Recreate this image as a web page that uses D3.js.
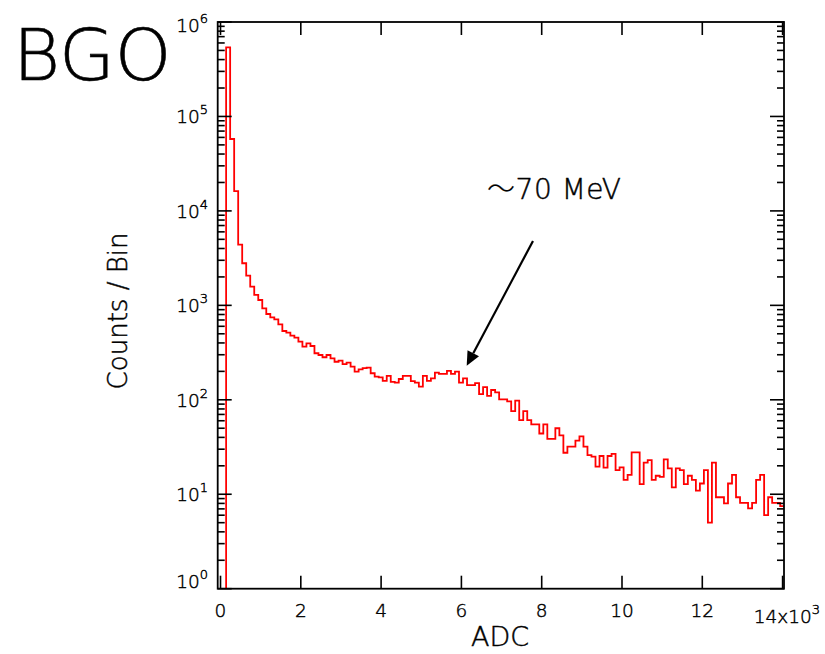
<!DOCTYPE html>
<html><head><meta charset="utf-8">
<script src="https://cdn.jsdelivr.net/npm/d3@7/dist/d3.min.js"></script>
<style>
body{margin:0;background:#fff}
svg text{font-family:"DejaVu Sans",sans-serif;fill:#000;font-weight:300;stroke:#000;stroke-width:0.45px}
svg text.big{stroke-width:0.6px}
</style>
</head><body>
<svg id="chart" width="825" height="654"></svg>
<script>
// ---- data ----
const binWidth = 100;        // ADC units per bin
const firstEdge = 140;       // lower edge of first filled bin
const counts = [
  540000, 57700, 16200, 4390, 2790, 2060, 1575, 1288, 1140, 931,
  810, 747, 711, 630, 535, 514, 478, 455, 412, 365,
  396, 371, 311, 298, 282, 298, 275, 253, 260, 239,
  247, 224, 199, 210, 216, 219, 191, 176, 173, 159,
  179, 155, 152, 166, 179, 179, 158, 152, 138, 179,
  159, 169, 194, 188, 188, 202, 188, 199, 152, 169,
  143, 143, 150, 115, 136, 110, 127, 120, 101, 101,
  96, 76, 98, 61, 76, 61, 55, 55, 44, 55,
  38.5, 38.5, 50, 42, 27.5, 32, 32, 37, 41, 32,
  26, 25, 19.6, 25.4, 19.1, 25.4, 26.7, 18, 19.3, 14.2,
  16, 27.8, 27.8, 12.8, 21.6, 23, 14.2, 15.7, 15.3, 23.4,
  18.8, 11.8, 18.8, 18, 12.8, 15.7, 14.2, 10.9, 13, 18,
  5.0, 21.6, 9.3, 9.3, 8.0, 13, 16, 9.3, 8.1, 8.1,
  7.1, 8.1, 14.2, 16, 6.0, 9.3, 8.1, 8.1, 7.5
];
const xTicks = [0, 2000, 4000, 6000, 8000, 10000, 12000, 14000];
const xTickLabels = ["0", "2", "4", "6", "8", "10", "12"];
const xExponentLabel = "14x10";
const xExponent = "3";
const yExponents = [0, 1, 2, 3, 4, 5, 6];
const annotation = {wave: "〜", text: "70 MeV", x: 6640, y: 13370};
const arrow = {x1: 7783, y1: 4800, x2: 6132, y2: 230};
const xTitle = "ADC", yTitle = "Counts / Bin", bigTitle = "BGO";

// ---- layout ----
const L = 217.7, R = 784, T = 22, B = 588.7;
const svg = d3.select("#chart");
const x = d3.scaleLinear().domain([-70, 14035]).range([L, R]);
const y = d3.scaleLog().domain([1, 1e6]).range([B, T]);

svg.append("defs").append("clipPath").attr("id","clip")
  .append("rect").attr("x",L).attr("y",T).attr("width",R-L).attr("height",B-T);

// histogram
const pts = [[firstEdge, 1]];
counts.forEach((c,i)=>pts.push([firstEdge + i*binWidth, c]));
pts.push([firstEdge + counts.length*binWidth, counts[counts.length-1]]);
const line = d3.line().x(d=>x(d[0])).y(d=>y(d[1])).curve(d3.curveStepAfter);
svg.append("path").attr("d", line(pts)).attr("fill","none")
  .attr("stroke","#ff0000").attr("stroke-width",1.8).attr("clip-path","url(#clip)");

// frame
svg.append("rect").attr("x",L).attr("y",T).attr("width",R-L).attr("height",B-T)
  .attr("fill","none").attr("stroke","#000").attr("stroke-width",1.8);

const tk = svg.append("g").attr("stroke","#000").attr("stroke-width",1.6);
xTicks.forEach(v=>{
  tk.append("line").attr("x1",x(v)).attr("x2",x(v)).attr("y1",B).attr("y2",B-13);
  tk.append("line").attr("x1",x(v)).attr("x2",x(v)).attr("y1",T).attr("y2",T+13);
});
yExponents.forEach(e=>{
  const v = Math.pow(10,e);
  tk.append("line").attr("x1",L).attr("x2",L+14).attr("y1",y(v)).attr("y2",y(v));
  tk.append("line").attr("x1",R).attr("x2",R-14).attr("y1",y(v)).attr("y2",y(v));
  if (e < 6) for (let m=2;m<=9;m++){
    const mv = m*v;
    tk.append("line").attr("x1",L).attr("x2",L+7).attr("y1",y(mv)).attr("y2",y(mv));
    tk.append("line").attr("x1",R).attr("x2",R-7).attr("y1",y(mv)).attr("y2",y(mv));
  }
});

// y labels
yExponents.forEach(e=>{
  const cy = Math.max(25, Math.min(581, y(Math.pow(10,e))));
  const t = svg.append("text").attr("x",208).attr("y",cy+6.7)
    .attr("text-anchor","end").attr("font-size",18.5);
  t.append("tspan").text("10");
  t.append("tspan").attr("font-size",13).attr("dy",-9).text(String(e));
});
// x labels
xTickLabels.forEach((s,i)=>{
  svg.append("text").attr("x",x(xTicks[i])).attr("y",617).attr("text-anchor","middle")
    .attr("font-size",18.5).text(s);
});
const xe = svg.append("text").attr("x",820).attr("y",623).attr("text-anchor","end").attr("font-size",18.5);
xe.append("tspan").text(xExponentLabel);
xe.append("tspan").attr("font-size",13).attr("dy",-9).text(xExponent);

// axis titles
svg.append("text").attr("x",500).attr("y",646).attr("text-anchor","middle")
  .attr("font-size",27).text(xTitle);
svg.append("text").attr("transform","translate(127,311) rotate(-90)")
  .attr("text-anchor","middle").attr("font-size",26).text(yTitle);

// big title
svg.append("text").attr("class","big").attr("x",13).attr("y",80).attr("font-size",72).text(bigTitle);

// annotation
const at = svg.append("text").attr("x",x(annotation.x)).attr("y",y(annotation.y))
  .attr("font-size",28).attr("letter-spacing",0.5);
at.append("tspan").attr("font-family","'Noto Sans CJK JP'").attr("font-weight",300)
  .attr("stroke-width",0.2).text(annotation.wave);
at.append("tspan").text(annotation.text);
const ax1=x(arrow.x1), ay1=y(arrow.y1), ax2=x(arrow.x2), ay2=y(arrow.y2);
const dx=ax2-ax1, dy=ay2-ay1, len=Math.hypot(dx,dy), ux=dx/len, uy=dy/len;
const hl=14, hw=6.5;
const bx=ax2-ux*hl, by=ay2-uy*hl;
svg.append("line").attr("x1",ax1).attr("y1",ay1).attr("x2",bx).attr("y2",by)
  .attr("stroke","#000").attr("stroke-width",2.2);
svg.append("path").attr("d",`M${ax2},${ay2}L${bx-uy*hw},${by+ux*hw}L${bx+uy*hw},${by-ux*hw}Z`)
  .attr("fill","#000");
</script>
</body></html>
